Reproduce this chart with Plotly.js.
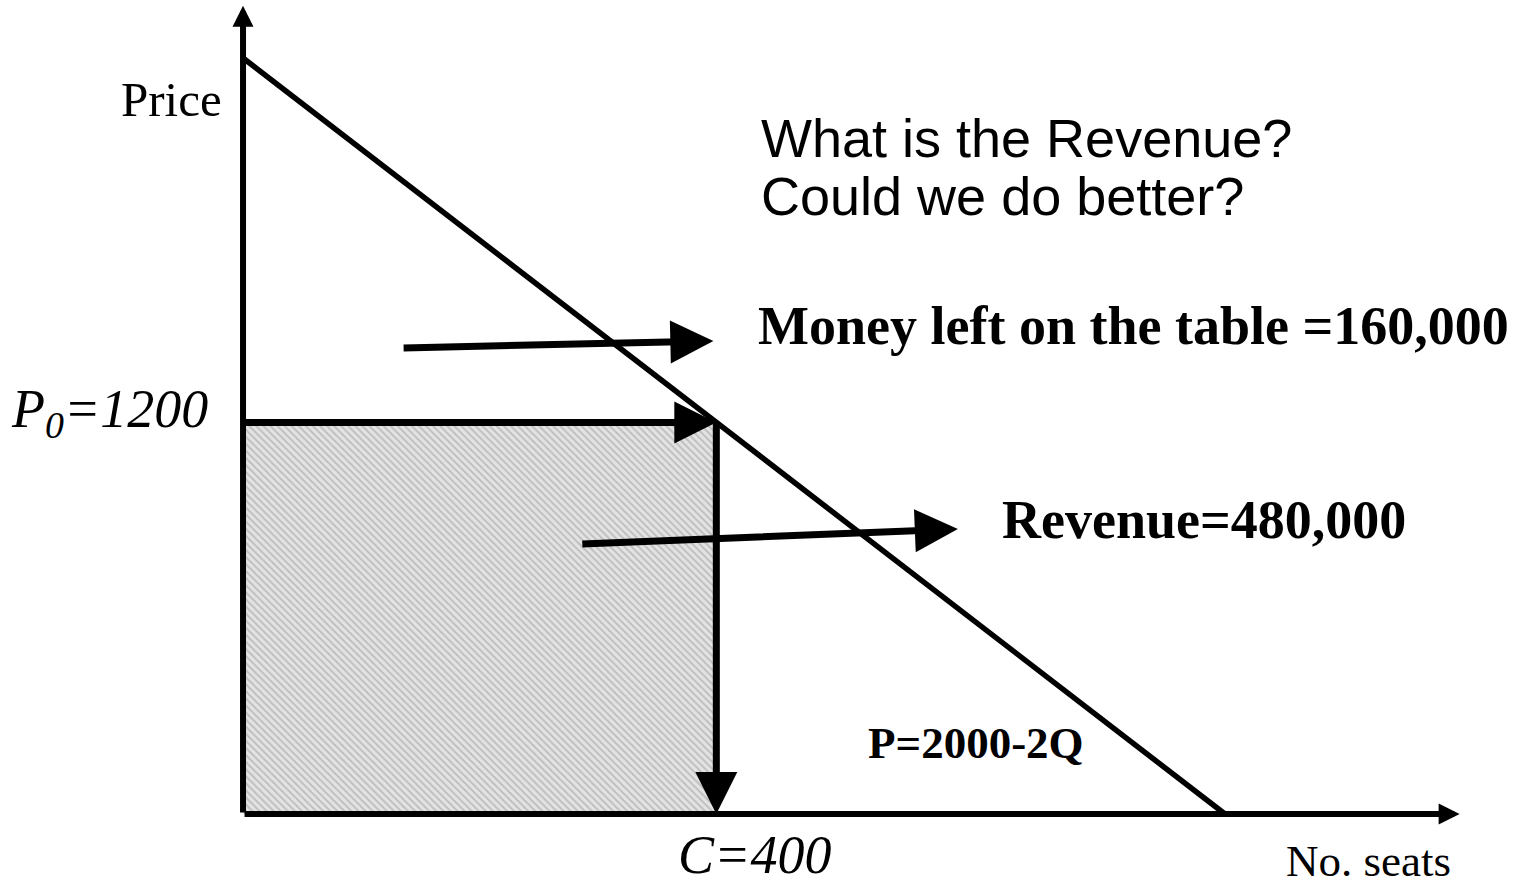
<!DOCTYPE html>
<html>
<head>
<meta charset="utf-8">
<script src="https://cdn.plot.ly/plotly-3.0.1.min.js"></script>
<style>html,body{margin:0;padding:0;background:#fff;}#chart{width:1517px;height:882px;}</style>
</head>
<body>
<div id="chart"></div>
<script>
// ---- diagram data (schematic Q / P units) ----
const demandQ = [0, 1000];            // P = 2000 - 2Q
const demandP = [2000, 0];
const capacityQ = 482;                // drawn position of C
const fareP = 1036;                   // drawn position of P0
const revenueRectQ = [0, capacityQ, capacityQ, 0, 0];
const revenueRectP = [0, 0, fareP, fareP, 0];
const axisTipQ = 1239;                // end of x axis arrow
const axisTipP = 2138;                // end of y axis arrow
const moneyArrowQ = [162, 479];
const moneyArrowP = [1233, 1251];
const revenueArrowQ = [344, 728];
const revenueArrowP = [714, 754];

const labelPrice = 'Price';
const labelSeats = 'No. seats';
const labelFare = '<i>P<sub>0</sub>=1200</i>';
const labelCap = '<i>C=400</i>';
const labelQuestion1 = 'What is the Revenue?';
const labelQuestion2 = 'Could we do better?';
const labelMoney = '<b>Money left on the table =160,000</b>';
const labelRevenue = '<b>Revenue=480,000</b>';
const labelDemand = '<b>P=2000-2Q</b>';

const SERIF = 'Liberation Serif, Times New Roman, serif';
const SANS = 'Liberation Sans, Arial, sans-serif';

const traces = [
  {
    x: revenueRectQ, y: revenueRectP, type: 'scatter', mode: 'lines',
    fill: 'toself', line: {width: 0, color: 'rgba(0,0,0,0)'},
    fillcolor: '#e0e0e0',
    fillpattern: {shape: '\\', bgcolor: '#e3e3e3', fgcolor: '#bdbdbd', size: 5, solidity: 0.35},
    hoverinfo: 'skip'
  },
  {
    x: demandQ, y: demandP, type: 'scatter', mode: 'lines',
    line: {color: '#000', width: 5.5}, hoverinfo: 'skip'
  }
];

function arrow(x0, y0, x1, y1, w, size) {
  return {
    x: x1, y: y1, ax: x0, ay: y0, xref: 'x', yref: 'y', axref: 'x', ayref: 'y',
    showarrow: true, arrowhead: 2, arrowwidth: w, arrowsize: size, arrowcolor: '#000', text: ''
  };
}
function label(text, x, y, xanchor, font, size) {
  return {
    text: text, x: x, y: y, xref: 'x', yref: 'y', showarrow: false,
    xanchor: xanchor, yanchor: 'middle', align: 'left',
    font: {family: font, size: size, color: '#000'}
  };
}

const annotations = [
  arrow(0, 0, 0, axisTipP, 6, 0.7),
  arrow(0, 0, axisTipQ, 0, 6, 0.7),
  arrow(0, fareP, capacityQ, fareP, 7, 1.2),
  arrow(capacityQ, fareP, capacityQ, 0, 7, 1.2),
  arrow(moneyArrowQ[0], moneyArrowP[0], moneyArrowQ[1], moneyArrowP[1], 7, 1.23),
  arrow(revenueArrowQ[0], revenueArrowP[0], revenueArrowQ[1], revenueArrowP[1], 7, 1.23),
  label(labelPrice, -19, 1889, 'right', SERIF, 49),
  label(labelFare, -34, 1063, 'right', SERIF, 54),
  label(labelCap, 521, -108, 'center', SERIF, 54),
  label(labelSeats, 1232, -124, 'right', SERIF, 45),
  label(labelQuestion1, 525, 1788, 'left', SANS, 54),
  label(labelQuestion2, 525, 1635, 'left', SANS, 54),
  label(labelMoney, 522, 1291, 'left', SERIF, 54),
  label(labelRevenue, 771, 778, 'left', SERIF, 54),
  label(labelDemand, 634, 188, 'left', SERIF, 45)
];

const layout = {
  width: 1517, height: 882,
  margin: {l: 0, r: 0, t: 0, b: 0},
  paper_bgcolor: '#fff', plot_bgcolor: '#fff',
  showlegend: false,
  xaxis: {range: [-247.5, 1297.4], visible: false, fixedrange: true},
  yaxis: {range: [-179.9, 2153.4], visible: false, fixedrange: true},
  annotations: annotations
};

Plotly.newPlot('chart', traces, layout, {displayModeBar: false, staticPlot: true});
</script>
</body>
</html>
